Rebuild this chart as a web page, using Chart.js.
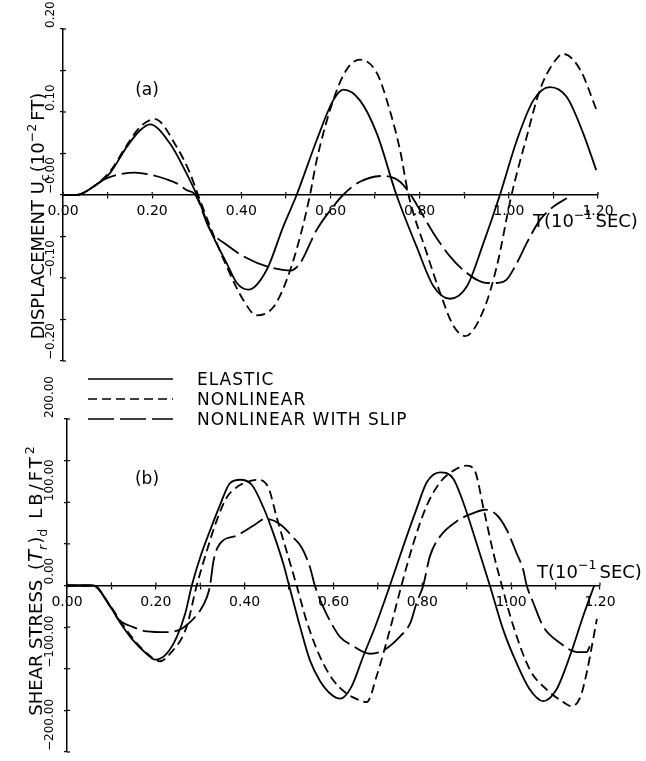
<!DOCTYPE html>
<html><head><meta charset="utf-8">
<script src="https://cdn.jsdelivr.net/npm/chart.js@4.4.1/dist/chart.umd.min.js"></script>
<style>
html,body{margin:0;padding:0;background:#fff;}
#wrap{position:relative;width:646px;height:761px;background:#fff;}
canvas{position:absolute;left:0;top:0;}
</style></head><body>
<div id="wrap"><canvas id="ca" width="646" height="761"></canvas><canvas id="cb" width="646" height="761"></canvas></div>
<script>
// ---------- Panel (a): displacement U_c (10^-2 FT) ----------
const tElasticA = [0, 0.03, 0.068, 0.105, 0.143, 0.173, 0.195, 0.24, 0.277, 0.30, 0.33, 0.367, 0.39, 0.416, 0.457, 0.494, 0.524, 0.569, 0.606, 0.629, 0.666, 0.704, 0.748, 0.793, 0.831, 0.868, 0.906, 0.943, 0.980, 1.018, 1.055, 1.092, 1.13, 1.167, 1.196];
const uElasticA = [0, 0, 0.010, 0.026, 0.058, 0.078, 0.085, 0.062, 0.026, 0, -0.042, -0.082, -0.106, -0.114, -0.090, -0.038, 0, 0.066, 0.114, 0.127, 0.114, 0.074, 0, -0.062, -0.110, -0.125, -0.110, -0.058, 0, 0.066, 0.114, 0.130, 0.118, 0.074, 0.030];
const tNonlinA = [0, 0.03, 0.068, 0.105, 0.143, 0.173, 0.206, 0.255, 0.285, 0.303, 0.33, 0.367, 0.405, 0.434, 0.472, 0.502, 0.532, 0.554, 0.569, 0.606, 0.636, 0.666, 0.704, 0.733, 0.756, 0.775, 0.816, 0.846, 0.875, 0.902, 0.943, 0.973, 1.006, 1.040, 1.07, 1.10, 1.122, 1.16, 1.197];
const uNonlinA = [0, 0, 0.010, 0.028, 0.060, 0.082, 0.0915, 0.058, 0.026, 0, -0.038, -0.086, -0.127, -0.145, -0.135, -0.102, -0.050, 0, 0.042, 0.114, 0.151, 0.163, 0.147, 0.102, 0.054, 0, -0.070, -0.118, -0.157, -0.170, -0.139, -0.086, 0, 0.070, 0.127, 0.159, 0.170, 0.151, 0.102];
const tSlipA = [0, 0.03, 0.068, 0.09, 0.12, 0.161, 0.20, 0.232, 0.255, 0.277, 0.297, 0.33, 0.367, 0.412, 0.457, 0.51, 0.532, 0.569, 0.606, 0.628, 0.666, 0.72, 0.756, 0.78, 0.831, 0.868, 0.906, 0.950, 0.973, 0.995, 1.018, 1.040, 1.07, 1.10, 1.13];
const uSlipA = [0, 0, 0.010, 0.018, 0.024, 0.027, 0.024, 0.019, 0.014, 0.006, 0, -0.042, -0.060, -0.076, -0.086, -0.091, -0.082, -0.042, -0.014, 0, 0.016, 0.023, 0.016, 0, -0.046, -0.074, -0.094, -0.106, -0.106, -0.102, -0.082, -0.058, -0.030, -0.014, -0.004];

// ---------- Panel (b): shear stress (T_r)_d LB/FT^2 ----------
const tElasticB = [0, 0.059, 0.097, 0.119, 0.149, 0.179, 0.198, 0.224, 0.247, 0.266, 0.281, 0.30, 0.322, 0.344, 0.367, 0.39, 0.416, 0.442, 0.465, 0.487, 0.50, 0.525, 0.547, 0.570, 0.595, 0.615, 0.640, 0.667, 0.697, 0.727, 0.757, 0.787, 0.810, 0.840, 0.870, 0.892, 0.922, 0.952, 0.982, 1.012, 1.042, 1.072, 1.102, 1.132, 1.162, 1.187];
const sElasticB = [0, 0, -25, -44, -66, -82, -89, -82, -62, -34, 0, 34, 66, 96, 123, 127, 121, 94, 62, 26, 0, -50, -90, -115, -131, -136, -122, -85, -45, 0, 47, 92, 124, 136, 128, 100, 51, 0, -53, -93, -125, -139, -125, -85, -37, 0];
const tNonlinB = [0, 0.059, 0.097, 0.119, 0.149, 0.179, 0.209, 0.232, 0.269, 0.292, 0.315, 0.337, 0.36, 0.382, 0.404, 0.427, 0.453, 0.472, 0.494, 0.517, 0.539, 0.570, 0.60, 0.63, 0.655, 0.675, 0.697, 0.727, 0.753, 0.78, 0.81, 0.84, 0.87, 0.90, 0.918, 0.938, 0.96, 0.979, 1.005, 1.042, 1.08, 1.117, 1.135, 1.155, 1.17, 1.181, 1.193];
const sNonlinB = [0, 0, -24, -42, -64, -81, -91, -82, -50, 0, 42, 78, 106, 118, 124, 127, 118, 82, 42, 0, -42, -86, -114, -130, -137, -140, -109, -53, 0, 51, 96, 124, 138, 144, 138, 92, 39, 0, -49, -101, -125, -140, -145, -135, -105, -75, -40];
const tSlipB = [0, 0.059, 0.097, 0.115, 0.149, 0.179, 0.224, 0.254, 0.277, 0.30, 0.315, 0.322, 0.33, 0.344, 0.382, 0.42, 0.446, 0.479, 0.509, 0.528, 0.547, 0.558, 0.577, 0.60, 0.615, 0.645, 0.682, 0.712, 0.75, 0.773, 0.787, 0.802, 0.817, 0.84, 0.877, 0.915, 0.941, 0.967, 0.99, 1.012, 1.027, 1.035, 1.05, 1.072, 1.11, 1.148, 1.17, 1.177];
const sSlipB = [0, 0, -25, -40, -50, -55, -56, -53, -44, -30, -14, 0, 30, 50, 60, 72, 80, 74, 58, 46, 22, 0, -26, -50, -62, -73, -82, -78, -61, -45, -21, 0, 35, 59, 77, 87, 91, 85, 67, 39, 19, 0, -21, -49, -69, -80, -80, -73];

// ---------- series names, tick labels ----------
const seriesNames = ['ELASTIC', 'NONLINEAR', 'NONLINEAR WITH SLIP'];
const xTickValues = [0, 0.2, 0.4, 0.6, 0.8, 1.0, 1.2];
const xTickLabels = ['0.00', '0.20', '0.40', '0.60', '0.80', '1.00', '1.20'];
const yTickValuesA = [-0.2, -0.1, 0, 0.1, 0.2];
const yTickLabelsA = ['\u22120.20', '\u22120.10', '\u22120.00', '0.10', '0.20'];
const yTickValuesB = [-200, -100, 0, 100, 200];
const yTickLabelsB = ['\u2212200.00', '\u2212100.00', '0.00', '100.00', '200.00'];

const FONT = '"DejaVu Sans", "Liberation Sans", sans-serif';
Chart.defaults.font.family = FONT;
Chart.defaults.color = '#000';

const zip = (ts, vs) => ts.map((t, i) => ({x: t, y: vs[i]}));
const dashes = [[], [9, 5], [26, 6]];
function datasets(groups) {
  return groups.map((g, i) => ({
    label: seriesNames[i],
    data: zip(g[0], g[1]),
    borderColor: '#000',
    borderWidth: 1.8,
    borderDash: dashes[i],
    pointRadius: 0,
    fill: false,
    cubicInterpolationMode: 'monotone'
  }));
}
const pick = (vals, labs) => (value) => {
  const i = vals.findIndex(v => Math.abs(v - value) < 1e-6);
  return i >= 0 ? labs[i] : '';
};

function richText(ctx, segs, x, y, rot, base, align) {
  ctx.save();
  ctx.translate(x, y);
  ctx.rotate(rot);
  ctx.fillStyle = '#000';
  ctx.textAlign = 'left';
  ctx.textBaseline = 'alphabetic';
  const ws = [];
  let total = 0;
  segs.forEach(s => {
    const sz = (s.scale || 1) * base;
    ctx.font = (s.style || '') + ' ' + sz + 'px ' + FONT;
    ctx.letterSpacing = (s.ls || 0) + 'px';
    const w = ctx.measureText(s.t).width + (s.gap || 0);
    ws.push(w); total += w;
  });
  let cx = align === 'left' ? 0 : -total / 2;
  const bl = align === 'left' ? 0 : base * 0.36;
  segs.forEach((s, i) => {
    const sz = (s.scale || 1) * base;
    ctx.font = (s.style || '') + ' ' + sz + 'px ' + FONT;
    ctx.letterSpacing = (s.ls || 0) + 'px';
    ctx.fillText(s.t, cx, bl + (s.dy || 0) * base);
    cx += ws[i];
  });
  ctx.restore();
}

// y tick labels generated by the y scale, drawn rotated and starting at their tick;
// plus the inner half of each tick cross
function drawAxisExtras(chart, cx) {
  const ctx = chart.ctx, ys = chart.scales.y, xs = chart.scales.x;
  const y0 = ys.getPixelForValue(0);
  ctx.save();
  ctx.fillStyle = '#000';
  ctx.strokeStyle = '#000';
  ctx.lineWidth = 1.2;
  ctx.font = '12px ' + FONT;
  ctx.textAlign = 'left';
  ctx.textBaseline = 'middle';
  ys.ticks.forEach(tk => {
    const py = ys.getPixelForValue(tk.value);
    ctx.beginPath();
    ctx.moveTo(xs.left, py);
    ctx.lineTo(xs.left + 3, py);
    ctx.stroke();
    if (!tk.label) return;
    ctx.save();
    ctx.translate(cx, py - 1);
    ctx.rotate(-Math.PI / 2);
    ctx.fillText(tk.label, 0, 0);
    ctx.restore();
  });
  xs.ticks.forEach(tk => {
    const px = xs.getPixelForValue(tk.value);
    ctx.beginPath();
    ctx.moveTo(px, y0);
    ctx.lineTo(px, y0 - 3);
    ctx.stroke();
  });
  ctx.restore();
}

function makeChart(id, groups, yMin, yMax, yStep, yVals, yLabs, axisW, pad, deco) {
  return new Chart(document.getElementById(id), {
    type: 'line',
    data: {datasets: datasets(groups)},
    options: {
      responsive: false,
      animation: false,
      events: [],
      layout: {padding: pad},
      plugins: {legend: {display: false}, tooltip: {enabled: false}},
      scales: {
        x: {
          type: 'linear',
          position: {y: 0},
          min: 0, max: 1.2,
          border: {display: true, color: '#000', width: 1.5},
          grid: {drawOnChartArea: false, drawTicks: true, tickLength: 3, color: '#000', lineWidth: 1.2},
          ticks: {stepSize: 0.1, autoSkip: false, maxRotation: 0, padding: 5,
                  font: {size: 14}, color: '#000', callback: pick(xTickValues, xTickLabels)}
        },
        y: {
          type: 'linear',
          position: 'left',
          min: yMin, max: yMax,
          border: {display: true, color: '#000', width: 1.5},
          grid: {drawOnChartArea: false, drawTicks: true, tickLength: 3, color: '#000', lineWidth: 1.2},
          ticks: {display: false, stepSize: yStep, autoSkip: false,
                  font: {size: 12}, color: '#000', callback: pick(yVals, yLabs)},
          afterFit(scale) { scale.width = axisW; scale.paddingTop = 0; scale.paddingBottom = 0; }
        }
      }
    },
    plugins: [{id: 'deco', afterDraw: deco}]
  });
}

const chartA = makeChart('ca',
  [[tElasticA, uElasticA], [tNonlinA, uNonlinA], [tSlipA, uSlipA]],
  -0.2, 0.2, 0.05, yTickValuesA, yTickLabelsA,
  63,
  {top: 29, bottom: 400, left: 0, right: 48},
  (chart) => {
    const ctx = chart.ctx, xs = chart.scales.x, ys = chart.scales.y;
    const y0 = ys.getPixelForValue(0);
    drawAxisExtras(chart, 51);
    richText(ctx, [
      {t: 'DISPLACEMENT U'}, {t: 'c', scale: 0.7, dy: 0.3, gap: 2},
      {t: '(10'}, {t: '\u22122', scale: 0.7, dy: -0.45, gap: 3}, {t: 'FT)'}
    ], 37.5, 216, -Math.PI / 2, 18, 'center');
    richText(ctx, [{t: '(a)'}], 147, 89, 0, 17, 'center');
    richText(ctx, [{t: 'T(10'}, {t: '\u22121', scale: 0.7, dy: -0.45, gap: 3}, {t: 'SEC)'}],
      xs.right - 65, y0 + 32, 0, 18, 'left');
  });

const chartB = makeChart('cb',
  [[tElasticB, sElasticB], [tNonlinB, sNonlinB], [tSlipB, sSlipB]],
  -200, 200, 50, yTickValuesB, yTickLabelsB,
  67,
  {top: 419, bottom: 9, left: 0, right: 46},
  (chart) => {
    const ctx = chart.ctx, xs = chart.scales.x, ys = chart.scales.y;
    const y0 = ys.getPixelForValue(0);
    const ca = chart.chartArea;
    drawAxisExtras(chart, 50);
    richText(ctx, [
      {t: 'SHEAR STRESS ', gap: 4}, {t: '(', ls: 1}, {t: 'T', style: 'italic', scale: 1.1},
      {t: 'r', style: 'italic', scale: 0.7, dy: 0.3, gap: 1}, {t: ')'}, {t: 'd', scale: 0.7, dy: 0.3, gap: 10},
      {t: 'LB/FT', ls: 3}, {t: '2', scale: 0.7, dy: -0.45}
    ], 35.5, 581, -Math.PI / 2, 18, 'center');
    richText(ctx, [{t: '(b)'}], 147, 478, 0, 17, 'center');
    richText(ctx, [{t: 'T(10'}, {t: '\u22121', scale: 0.7, dy: -0.45, gap: 3}, {t: 'SEC)'}],
      xs.right - 63, y0 - 8, 0, 18, 'left');
    // legend, drawn from the datasets' own styles
    chart.data.datasets.forEach((ds, i) => {
      const ry = ca.top - 40 + i * 20;
      ctx.save();
      ctx.strokeStyle = '#000';
      ctx.lineWidth = 1.6;
      ctx.setLineDash(ds.borderDash || []);
      ctx.beginPath();
      ctx.moveTo(ca.left + 21, ry);
      ctx.lineTo(ca.left + 106, ry);
      ctx.stroke();
      ctx.restore();
      richText(ctx, [{t: ds.label, ls: 1}], ca.left + 130, ry + 6, 0, 17, 'left');
    });
  });
</script>
</body></html>
